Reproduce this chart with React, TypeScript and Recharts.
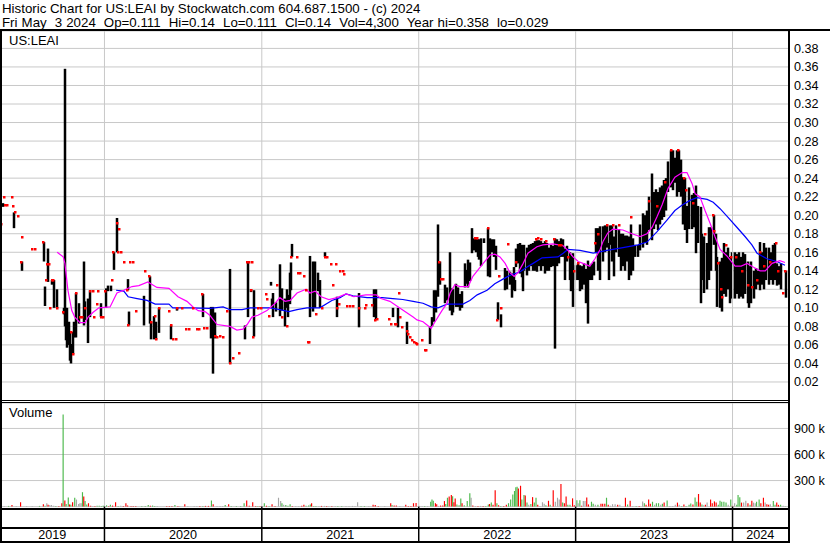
import React from "react";
import {
  ComposedChart,
  Bar,
  Line,
  Scatter,
  XAxis,
  YAxis,
  CartesianGrid,
  ReferenceLine,
  Cell,
} from "recharts";

// x unit = calendar days since May 3 2019
const DAY_MAX = 1833;
const yearStarts = [243, 609, 974, 1339, 1704];
const yearLabels = ["2019", "2020", "2021", "2022", "2023", "2024"];
const priceTicks = [0.02, 0.04, 0.06, 0.08, 0.1, 0.12, 0.14, 0.16, 0.18, 0.2, 0.22, 0.24, 0.26, 0.28, 0.3, 0.32, 0.34, 0.36, 0.38];
const volTicks = [300000, 600000, 900000];

// [day, low, high]
const bars19 = [
  [5, 0.209, 0.213], [31, 0.186, 0.203], [49, 0.14, 0.15], [101, 0.15, 0.171], [104, 0.102, 0.123],
  [110, 0.128, 0.164], [120, 0.125, 0.13], [124, 0.1, 0.13], [130, 0.1, 0.12], [146, 0.093, 0.1],
  [150, 0.08, 0.358], [152, 0.065, 0.1], [155, 0.057, 0.1], [158, 0.06, 0.085], [161, 0.043, 0.074],
  [164, 0.04, 0.061], [168, 0.05, 0.074], [171, 0.068, 0.085], [176, 0.068, 0.116], [182, 0.083, 0.105],
  [194, 0.081, 0.15], [197, 0.087, 0.107], [203, 0.062, 0.11], [208, 0.09, 0.119], [232, 0.09, 0.105],
];
const bars20 = [
  [245, 0.1, 0.121], [250, 0.118, 0.124], [256, 0.118, 0.124], [264, 0.141, 0.16], [270, 0.16, 0.197],
  [295, 0.119, 0.131], [298, 0.081, 0.096], [332, 0.081, 0.113], [346, 0.083, 0.134], [349, 0.066, 0.085],
  [357, 0.066, 0.091], [362, 0.066, 0.085], [369, 0.073, 0.1], [397, 0.066, 0.081], [411, 0.097, 0.1],
  [471, 0.09, 0.115], [488, 0.067, 0.101], [494, 0.029, 0.101], [498, 0.067, 0.095], [534, 0.04, 0.142],
  [569, 0.066, 0.081], [574, 0.09, 0.15], [583, 0.117, 0.12], [589, 0.069, 0.119],
];
const bars21 = [
  [628, 0.124, 0.128], [630, 0.1, 0.11], [634, 0.09, 0.116], [640, 0.096, 0.106], [650, 0.091, 0.147],
  [654, 0.097, 0.121], [661, 0.08, 0.11], [665, 0.1, 0.12], [668, 0.09, 0.114], [673, 0.104, 0.138],
  [676, 0.119, 0.149], [678, 0.155, 0.169], [720, 0.09, 0.156], [726, 0.096, 0.15], [732, 0.1, 0.15],
  [738, 0.118, 0.138], [743, 0.1, 0.13], [754, 0.155, 0.16], [783, 0.09, 0.112], [833, 0.079, 0.116],
  [868, 0.09, 0.12], [873, 0.087, 0.12], [913, 0.09, 0.1], [925, 0.079, 0.1], [944, 0.061, 0.085],
];
const bars22 = [
  [999, 0.061, 0.08], [1003, 0.08, 0.09], [1008, 0.085, 0.119], [1012, 0.095, 0.119], [1017, 0.112, 0.19],
  [1022, 0.125, 0.15], [1034, 0.105, 0.125], [1039, 0.108, 0.122], [1044, 0.097, 0.16], [1049, 0.092, 0.121],
  [1053, 0.095, 0.12], [1059, 0.101, 0.126], [1064, 0.101, 0.122], [1069, 0.097, 0.115], [1073, 0.1, 0.118],
  [1079, 0.122, 0.148], [1084, 0.126, 0.141], [1087, 0.122, 0.152], [1092, 0.129, 0.149], [1096, 0.159, 0.186],
  [1100, 0.162, 0.175], [1105, 0.16, 0.175], [1109, 0.155, 0.174], [1113, 0.152, 0.174], [1118, 0.145, 0.175],
  [1123, 0.17, 0.175], [1134, 0.134, 0.186], [1138, 0.133, 0.175], [1143, 0.16, 0.174], [1148, 0.155, 0.174],
  [1151, 0.141, 0.167], [1157, 0.087, 0.106], [1163, 0.079, 0.093], [1172, 0.119, 0.143], [1178, 0.12, 0.14],
  [1184, 0.125, 0.139], [1188, 0.111, 0.137], [1193, 0.119, 0.144], [1196, 0.118, 0.13], [1199, 0.144, 0.164],
  [1203, 0.148, 0.169], [1208, 0.137, 0.17], [1213, 0.133, 0.168], [1215, 0.118, 0.14], [1218, 0.14, 0.168],
  [1223, 0.135, 0.165], [1228, 0.14, 0.168], [1234, 0.145, 0.169], [1238, 0.14, 0.17], [1242, 0.14, 0.172],
  [1247, 0.139, 0.173], [1252, 0.145, 0.173], [1257, 0.14, 0.172], [1262, 0.145, 0.17], [1267, 0.137, 0.172],
  [1271, 0.14, 0.17], [1276, 0.14, 0.165], [1280, 0.144, 0.168], [1285, 0.145, 0.167], [1289, 0.056, 0.175],
  [1293, 0.145, 0.174], [1298, 0.148, 0.172], [1303, 0.155, 0.175], [1308, 0.155, 0.174], [1312, 0.13, 0.164],
  [1318, 0.15, 0.167], [1323, 0.13, 0.16], [1326, 0.118, 0.156], [1332, 0.101, 0.159], [1337, 0.13, 0.146],
];
const bars23 = [
  [1342, 0.13, 0.148], [1347, 0.118, 0.146], [1352, 0.12, 0.145], [1357, 0.125, 0.148], [1361, 0.105, 0.142],
  [1366, 0.083, 0.151], [1370, 0.13, 0.146], [1376, 0.13, 0.148], [1380, 0.135, 0.15], [1385, 0.159, 0.186],
  [1390, 0.14, 0.186], [1395, 0.13, 0.188], [1400, 0.15, 0.188], [1405, 0.16, 0.189], [1410, 0.165, 0.189],
  [1414, 0.13, 0.17], [1418, 0.168, 0.189], [1422, 0.15, 0.189], [1426, 0.134, 0.177], [1432, 0.16, 0.189],
  [1437, 0.155, 0.185], [1442, 0.14, 0.18], [1447, 0.145, 0.18], [1452, 0.14, 0.178], [1457, 0.15, 0.178],
  [1462, 0.13, 0.177], [1467, 0.135, 0.19], [1471, 0.14, 0.175], [1476, 0.155, 0.168], [1482, 0.155, 0.168],
  [1488, 0.162, 0.19], [1493, 0.165, 0.202], [1498, 0.17, 0.2], [1503, 0.168, 0.205], [1508, 0.184, 0.22],
  [1514, 0.173, 0.245], [1519, 0.185, 0.225], [1524, 0.19, 0.228], [1529, 0.184, 0.225], [1534, 0.19, 0.23],
  [1539, 0.195, 0.232], [1543, 0.198, 0.238], [1548, 0.205, 0.24], [1553, 0.225, 0.258], [1558, 0.23, 0.27],
  [1563, 0.227, 0.27], [1568, 0.235, 0.262], [1573, 0.22, 0.27], [1578, 0.225, 0.27], [1582, 0.22, 0.26],
  [1587, 0.19, 0.241], [1592, 0.184, 0.24], [1597, 0.17, 0.21], [1602, 0.185, 0.23], [1607, 0.185, 0.222],
  [1612, 0.187, 0.224], [1617, 0.159, 0.232], [1622, 0.17, 0.21], [1628, 0.105, 0.209], [1632, 0.13, 0.18],
  [1636, 0.116, 0.177], [1642, 0.12, 0.17], [1648, 0.13, 0.187], [1653, 0.14, 0.187], [1658, 0.168, 0.2],
  [1663, 0.14, 0.18], [1667, 0.101, 0.155], [1672, 0.1, 0.15], [1677, 0.096, 0.154], [1682, 0.115, 0.17],
  [1687, 0.112, 0.16], [1692, 0.12, 0.165], [1697, 0.105, 0.155], [1702, 0.11, 0.16],
];
const bars24 = [
  [1707, 0.11, 0.16], [1712, 0.115, 0.158], [1717, 0.11, 0.16], [1722, 0.112, 0.155], [1727, 0.11, 0.16],
  [1732, 0.115, 0.158], [1737, 0.105, 0.15], [1741, 0.1, 0.145], [1746, 0.105, 0.15], [1751, 0.11, 0.14],
  [1756, 0.12, 0.143], [1761, 0.125, 0.14], [1766, 0.119, 0.171], [1771, 0.125, 0.16], [1776, 0.12, 0.17],
  [1781, 0.13, 0.165], [1786, 0.125, 0.165], [1791, 0.13, 0.16], [1796, 0.125, 0.168], [1801, 0.13, 0.17],
  [1806, 0.124, 0.148], [1811, 0.125, 0.145], [1816, 0.12, 0.148], [1827, 0.111, 0.14],
];

// red close marks [day, price]
const dots19 = [
  [2, 0.19], [9, 0.22], [12, 0.211], [16, 0.211], [29, 0.22], [30, 0.21], [35, 0.203], [43, 0.199],
  [49, 0.15], [51, 0.177], [74, 0.163], [81, 0.163], [101, 0.171], [106, 0.13], [110, 0.147], [113, 0.147],
  [117, 0.1], [120, 0.13], [124, 0.13], [133, 0.1], [146, 0.095], [166, 0.074], [169, 0.05], [176, 0.116],
  [186, 0.09], [190, 0.09], [197, 0.1], [210, 0.118], [216, 0.118], [218, 0.09], [225, 0.104], [229, 0.118],
  [236, 0.09], [240, 0.09],
];
const dots20 = [
  [245, 0.118], [260, 0.13], [264, 0.16], [271, 0.192], [274, 0.16], [277, 0.185], [281, 0.16], [288, 0.15],
  [295, 0.119], [298, 0.081], [302, 0.15], [309, 0.15], [316, 0.097], [338, 0.14], [346, 0.134], [352, 0.085],
  [360, 0.091], [363, 0.066], [369, 0.1], [394, 0.097], [397, 0.081], [403, 0.066], [409, 0.066], [411, 0.1],
  [423, 0.1], [433, 0.077], [439, 0.077], [450, 0.1], [458, 0.077], [464, 0.077], [471, 0.115], [475, 0.078],
  [481, 0.078], [500, 0.07], [505, 0.068], [512, 0.07], [519, 0.068], [529, 0.097], [534, 0.04], [541, 0.046],
  [555, 0.051], [574, 0.15], [580, 0.149], [586, 0.149], [583, 0.119], [589, 0.069], [599, 0.1], [606, 0.1],
];
const dots21 = [
  [618, 0.115], [622, 0.11], [625, 0.091], [644, 0.125], [656, 0.09], [667, 0.08], [678, 0.155], [690, 0.155],
  [694, 0.138], [698, 0.138], [707, 0.134], [712, 0.119], [716, 0.063], [719, 0.063], [735, 0.093], [748, 0.1],
  [756, 0.155], [760, 0.155], [769, 0.147], [774, 0.125], [781, 0.147], [784, 0.1], [789, 0.104], [792, 0.14],
  [797, 0.14], [800, 0.136], [808, 0.102], [815, 0.102], [821, 0.102], [834, 0.1], [848, 0.1], [851, 0.103],
  [865, 0.103], [873, 0.087], [878, 0.088], [904, 0.088], [910, 0.083], [918, 0.083], [922, 0.083], [929, 0.116],
  [931, 0.09], [934, 0.079], [947, 0.075], [950, 0.072], [954, 0.068], [958, 0.065], [962, 0.063], [967, 0.062],
  [970, 0.061],
];
const dots22 = [
  [982, 0.065], [988, 0.055], [992, 0.055], [1022, 0.15], [1026, 0.131], [1030, 0.131], [1105, 0.175],
  [1109, 0.175], [1135, 0.186], [1157, 0.087], [1161, 0.134], [1166, 0.1], [1181, 0.169], [1200, 0.15],
  [1247, 0.174], [1252, 0.175], [1258, 0.174], [1270, 0.172], [1289, 0.174], [1300, 0.168], [1305, 0.168],
  [1322, 0.155], [1336, 0.14],
];
const dots23 = [
  [1345, 0.148], [1385, 0.17], [1392, 0.18], [1412, 0.189], [1425, 0.189], [1440, 0.189], [1467, 0.198],
  [1509, 0.215], [1529, 0.21], [1548, 0.236], [1561, 0.27], [1578, 0.27], [1590, 0.24], [1596, 0.227],
  [1612, 0.213], [1641, 0.18], [1658, 0.2], [1660, 0.183], [1670, 0.148], [1676, 0.12], [1680, 0.112],
  [1688, 0.168], [1700, 0.155],
];
const dots24 = [
  [1712, 0.155], [1725, 0.14], [1740, 0.125], [1750, 0.122], [1762, 0.13], [1768, 0.16], [1778, 0.145],
  [1790, 0.15], [1804, 0.17], [1810, 0.14], [1821, 0.116], [1827, 0.14],
];

// moving averages [day, value]
const maShort = [
  [133, 0.16], [147, 0.155], [151, 0.148], [158, 0.119], [167, 0.097], [174, 0.09], [186, 0.084], [198, 0.084],
  [205, 0.09], [216, 0.095], [230, 0.1], [256, 0.101], [272, 0.116], [288, 0.119], [307, 0.123], [323, 0.124],
  [344, 0.128], [365, 0.122], [393, 0.121], [414, 0.112], [435, 0.107], [449, 0.101], [461, 0.097], [477, 0.096],
  [488, 0.092], [505, 0.082], [535, 0.08], [551, 0.076], [565, 0.077], [575, 0.082], [586, 0.09], [600, 0.092],
  [621, 0.097], [640, 0.105], [651, 0.111], [663, 0.107], [675, 0.108], [691, 0.116], [712, 0.12], [721, 0.116],
  [733, 0.118], [747, 0.112], [765, 0.109], [784, 0.111], [805, 0.115], [823, 0.112], [851, 0.114], [875, 0.114],
  [886, 0.11], [907, 0.107], [923, 0.102], [942, 0.096], [961, 0.09], [970, 0.087], [984, 0.085], [1003, 0.078],
  [1012, 0.085], [1028, 0.097], [1040, 0.105], [1047, 0.116], [1058, 0.125], [1070, 0.123], [1089, 0.123],
  [1100, 0.134], [1112, 0.141], [1124, 0.148], [1140, 0.157], [1151, 0.158], [1163, 0.155], [1175, 0.148],
  [1186, 0.138], [1196, 0.134], [1205, 0.138], [1217, 0.148], [1228, 0.159], [1249, 0.166], [1263, 0.168],
  [1286, 0.169], [1310, 0.167], [1321, 0.162], [1333, 0.155], [1345, 0.15], [1356, 0.148], [1372, 0.145],
  [1384, 0.153], [1396, 0.163], [1403, 0.172], [1414, 0.181], [1426, 0.185], [1449, 0.184], [1470, 0.18],
  [1489, 0.177], [1505, 0.18], [1517, 0.187], [1528, 0.198], [1540, 0.211], [1554, 0.229], [1570, 0.241],
  [1587, 0.246], [1598, 0.246], [1610, 0.234], [1617, 0.223], [1628, 0.22], [1640, 0.205], [1652, 0.191],
  [1663, 0.177], [1675, 0.163], [1691, 0.156], [1710, 0.145], [1724, 0.145], [1738, 0.148], [1752, 0.144],
  [1768, 0.14], [1780, 0.14], [1796, 0.148], [1814, 0.151], [1826, 0.149],
];
const maLong = [
  [270, 0.119], [288, 0.118], [298, 0.112], [319, 0.11], [342, 0.108], [361, 0.104], [393, 0.104], [402, 0.1],
  [442, 0.1], [488, 0.0995], [519, 0.101], [535, 0.098], [563, 0.098], [582, 0.1], [628, 0.1], [651, 0.098],
  [672, 0.096], [691, 0.098], [714, 0.1], [744, 0.1], [772, 0.108], [791, 0.111], [805, 0.115], [821, 0.113],
  [854, 0.111], [889, 0.111], [914, 0.11], [937, 0.109], [961, 0.107], [984, 0.105], [1003, 0.101], [1019, 0.1],
  [1040, 0.104], [1077, 0.104], [1093, 0.108], [1110, 0.114], [1133, 0.119], [1151, 0.126], [1170, 0.131],
  [1186, 0.135], [1210, 0.139], [1226, 0.144], [1240, 0.148], [1261, 0.154], [1298, 0.155], [1310, 0.159],
  [1321, 0.163], [1349, 0.162], [1380, 0.159], [1412, 0.162], [1449, 0.165], [1484, 0.168], [1505, 0.171],
  [1528, 0.182], [1552, 0.195], [1570, 0.205], [1587, 0.211], [1605, 0.216], [1621, 0.219], [1645, 0.217],
  [1659, 0.214], [1675, 0.207], [1693, 0.198], [1714, 0.187], [1733, 0.177], [1749, 0.168], [1761, 0.159],
  [1784, 0.153], [1807, 0.15], [1826, 0.146],
];

// volume [day, thousands, direction 1 up / -1 down / 0 flat]
const vol19 = [
  [3, 8, 1], [10, 6, 0], [20, 8, 1], [28, 18, -1], [38, 6, 0], [48, 50, -1], [62, 8, 0], [75, 6, 0], [92, 8, 1],
  [101, 28, -1], [105, 10, 1], [109, 39, 0], [112, 20, -1], [116, 18, 0], [120, 18, 0], [125, 10, 0], [130, 8, 1],
  [137, 8, -1], [144, 39, -1], [147, 1062, 1], [151, 70, -1], [154, 30, 1], [159, 106, 1], [162, 25, -1],
  [165, 20, 1], [169, 50, -1], [174, 102, 1], [178, 81, 0], [183, 30, 0], [186, 39, 0], [189, 40, 0],
  [192, 166, 1], [195, 116, -1], [198, 64, 1], [202, 25, 1], [206, 39, -1], [211, 10, -1], [216, 8, 0],
  [221, 8, -1], [226, 10, 1], [231, 10, 1], [236, 8, 1], [240, 10, 1],
];
const vol20 = [
  [243, 12, 1], [248, 15, 1], [253, 6, -1], [257, 20, 1], [262, 12, -1], [269, 50, -1], [275, 8, 1], [281, 10, 0],
  [287, 6, -1], [293, 39, -1], [297, 12, -1], [305, 8, -1], [310, 8, -1], [316, 8, -1], [330, 8, 1], [338, 8, 1],
  [345, 18, 1], [350, 10, -1], [355, 12, 1], [360, 8, 1], [366, 6, 0], [388, 8, -1], [394, 8, -1], [400, 8, -1],
  [407, 18, 1], [414, 8, -1], [418, 6, 0], [430, 28, -1], [437, 8, 0], [452, 6, 0], [458, 6, 0], [465, 8, -1],
  [472, 8, 1], [478, 8, -1], [485, 8, -1], [492, 70, 1], [496, 28, -1], [505, 8, 0], [512, 8, 0], [518, 8, 0],
  [524, 18, 1], [532, 28, -1], [538, 8, 1], [550, 6, 1], [560, 8, 1], [568, 39, 1], [574, 70, -1], [580, 10, -1],
  [588, 50, -1], [595, 8, -1], [600, 8, 1], [605, 8, -1],
];
const vol21 = [
  [615, 39, 1], [620, 10, -1], [626, 8, 1], [633, 28, -1], [640, 8, -1], [648, 102, 0], [653, 64, 0], [656, 39, 1],
  [660, 20, 0], [665, 18, 1], [670, 10, 1], [675, 28, 1], [680, 8, -1], [688, 8, 0], [695, 8, 0], [702, 10, -1],
  [707, 21, -1], [712, 10, 1], [718, 12, 1], [722, 25, 1], [725, 39, -1], [730, 8, 1], [735, 8, 1], [742, 8, 0],
  [748, 8, -1], [755, 8, 0], [760, 8, -1], [765, 6, 0], [772, 8, -1], [780, 8, 0], [786, 6, 1], [795, 8, 1],
  [805, 8, 0], [812, 8, 0], [820, 8, 0], [826, 8, 0], [832, 50, 0], [840, 8, 1], [848, 6, 1], [858, 6, 0],
  [868, 21, -1], [873, 18, -1], [880, 8, -1], [895, 6, 0], [909, 39, -1], [912, 18, 1], [917, 12, -1],
  [922, 12, -1], [930, 8, 0], [944, 21, -1], [950, 8, -1], [956, 8, -1], [962, 39, -1], [968, 42, -1],
];
const vol22 = [
  [976, 8, 0], [982, 6, 0], [988, 8, 1], [995, 8, 0], [1002, 56, 1], [1005, 81, 1], [1008, 67, 1], [1013, 39, -1],
  [1016, 28, -1], [1020, 8, 0], [1025, 12, -1], [1030, 12, -1], [1034, 64, -1], [1037, 30, 1], [1041, 102, 1],
  [1045, 116, -1], [1050, 134, -1], [1053, 120, 1], [1056, 50, -1], [1059, 92, -1], [1063, 25, 1], [1068, 15, 1],
  [1072, 92, 1], [1075, 39, -1], [1080, 15, 1], [1087, 64, 1], [1093, 155, 1], [1096, 102, 0], [1100, 12, -1],
  [1106, 8, 0], [1112, 8, -1], [1118, 8, 0], [1124, 8, -1], [1130, 8, 1], [1136, 25, 1], [1139, 30, -1],
  [1143, 46, 1], [1147, 20, -1], [1152, 187, -1], [1156, 39, 1], [1160, 15, -1], [1165, 8, 1], [1172, 8, -1],
  [1178, 20, -1], [1183, 39, 1], [1188, 81, 1], [1193, 138, 1], [1197, 180, 1], [1200, 222, 1], [1203, 230, 1],
  [1206, 208, -1], [1211, 240, -1], [1214, 81, 1], [1219, 134, 1], [1222, 127, -1], [1226, 46, 1], [1230, 20, 0],
  [1235, 30, 1], [1239, 109, -1], [1243, 46, 1], [1247, 102, 1], [1251, 20, -1], [1256, 8, 0], [1262, 50, 0],
  [1266, 32, 0], [1270, 15, 1], [1276, 67, -1], [1280, 20, 1], [1287, 187, -1], [1292, 56, 0], [1297, 102, 0],
  [1301, 81, 0], [1305, 261, -1], [1309, 46, 1], [1313, 39, -1], [1317, 116, -1], [1321, 20, 1], [1326, 20, 1],
  [1332, 95, -1], [1336, 15, -1],
];
const vol23 = [
  [1342, 74, 1], [1345, 39, 0], [1349, 74, 1], [1353, 10, -1], [1357, 64, 0], [1361, 64, 0], [1365, 106, -1],
  [1369, 25, -1], [1376, 56, 1], [1380, 32, 1], [1385, 20, 0], [1391, 20, 1], [1398, 32, -1], [1402, 32, -1],
  [1407, 32, -1], [1411, 102, 1], [1415, 20, -1], [1420, 10, 0], [1425, 28, 0], [1431, 28, 0], [1437, 20, -1],
  [1442, 20, 0], [1455, 102, -1], [1460, 25, 1], [1466, 67, -1], [1472, 8, 0], [1480, 8, 1], [1487, 8, -1],
  [1495, 60, 0], [1499, 39, 1], [1503, 20, -1], [1509, 81, -1], [1513, 32, -1], [1518, 56, 1], [1523, 20, 0],
  [1527, 39, 1], [1532, 39, 1], [1537, 20, 0], [1541, 32, 1], [1545, 46, -1], [1552, 70, 1], [1558, 8, 0],
  [1565, 8, 0], [1571, 20, 0], [1576, 46, -1], [1580, 20, 0], [1586, 8, 1], [1591, 25, -1], [1596, 8, 1],
  [1603, 20, 1], [1607, 35, 1], [1612, 25, -1], [1617, 106, 1], [1621, 56, 1], [1625, 145, -1], [1629, 46, -1],
  [1633, 25, 1], [1637, 15, 0], [1641, 20, -1], [1645, 46, 0], [1653, 81, -1], [1657, 39, -1], [1662, 60, -1],
  [1666, 46, -1], [1671, 20, 1], [1675, 67, 1], [1679, 56, 1], [1684, 56, 1], [1689, 46, 1], [1694, 20, 0],
  [1700, 81, 1],
];
const vol24 = [
  [1704, 20, -1], [1709, 39, 0], [1714, 20, 1], [1717, 134, 1], [1721, 109, 1], [1725, 46, -1], [1730, 46, 0],
  [1735, 67, 0], [1740, 39, -1], [1745, 20, 1], [1749, 67, -1], [1753, 46, 0], [1757, 39, 0], [1760, 56, 1],
  [1766, 81, 1], [1770, 39, -1], [1776, 102, -1], [1780, 46, 0], [1784, 28, -1], [1788, 20, -1], [1792, 28, 0],
  [1799, 64, 1], [1803, 20, 1], [1807, 46, -1], [1811, 20, -1], [1816, 20, 1], [1822, 10, 0], [1827, 4, 1],
];

const priceRows = [...bars19, ...bars20, ...bars21, ...bars22, ...bars23, ...bars24].map(([d, lo, hi]) => ({ d, r: [lo, hi] }));
const dotRows = [...dots19, ...dots20, ...dots21, ...dots22, ...dots23, ...dots24].map(([d, p]) => ({ d, p }));
const shortRows = maShort.map(([d, v]) => ({ d, v }));
const longRows = maLong.map(([d, v]) => ({ d, v }));
const volRows = [...vol19, ...vol20, ...vol21, ...vol22, ...vol23, ...vol24].map(([d, k, dir]) => ({ d, v: k * 1000, dir }));

const bounds = [0, ...yearStarts, DAY_MAX];
const yearMids = yearLabels.map((_, i) => (bounds[i] + bounds[i + 1]) / 2);

const FONT = '"Liberation Sans", Arial, sans-serif';
const GRID = "#c8c8c8";
const volColor = (dir: number) => (dir > 0 ? "#4cb94c" : dir < 0 ? "#ff0000" : "#a6a6a6");

const RangeBar = (p: any) => {
  if (p.y == null || isNaN(p.y)) return null;
  const top = Math.min(p.y, p.y + p.height);
  const h = Math.max(Math.abs(p.height), 1);
  return <rect x={Math.round(p.x) - 0.25} y={top} width={2.5} height={h} fill="#000" />;
};

const CloseDot = (p: any) => (
  <rect x={Math.round(p.cx) - 1} y={Math.round(p.cy) - 1} width={2.5} height={2.5} fill="#ff0000" />
);

const YearTick = (p: any) => {
  const i = yearMids.indexOf(p.payload.value);
  if (i >= 0) {
    return (
      <text x={p.x} y={p.y + 32} textAnchor="middle" fontSize={12.6} fontFamily={FONT} fill="#000">
        {yearLabels[i]}
      </text>
    );
  }
  return <line x1={p.x} x2={p.x} y1={p.y} y2={p.y + 35} stroke="#000" strokeWidth={1.5} />;
};

const hLine = (top: number, h: number, w = 790) => (
  <div style={{ position: "absolute", left: 0, top, width: w, height: h, background: "#000" }} />
);

const titleStyle: React.CSSProperties = {
  position: "absolute",
  left: 2,
  fontSize: "13.3px",
  lineHeight: "14px",
  whiteSpace: "pre",
  color: "#000",
};

export default function App() {
  return (
    <div style={{ position: "absolute", left: 0, top: 0, width: 830, height: 543, background: "#fff", fontFamily: FONT, overflow: "hidden" }}>
      <div style={{ ...titleStyle, top: 1.7 }}>
        Historic Chart for US:LEAI by Stockwatch.com 604.687.1500 - (c) 2024
      </div>
      <div style={{ ...titleStyle, top: 15.7, wordSpacing: "0.35px" }}>
        {"Fri May  3 2024  Op=0.111  Hi=0.14  Lo=0.111  Cl=0.14  Vol=4,300  Year hi=0.358  lo=0.029"}
      </div>

      <div style={{ position: "absolute", left: 0, top: 31 }}>
        <ComposedChart width={830} height={370} data={priceRows} margin={{ top: 0, right: 0, bottom: 0.5, left: 0 }}>
          <CartesianGrid stroke={GRID} vertical={false} />
          {yearStarts.map((d) => (
            <ReferenceLine key={d} x={d} stroke={GRID} />
          ))}
          <XAxis dataKey="d" type="number" domain={[0, DAY_MAX]} hide />
          <YAxis
            orientation="right"
            width={42}
            domain={[0, 0.3988]}
            ticks={priceTicks}
            interval={0}
            tickFormatter={(v: number) => v.toFixed(2)}
            axisLine={false}
            tickLine={false}
            tickSize={4}
            tickMargin={2}
            tick={{ fill: "#000", fontSize: 12.6, fontFamily: FONT }}
          />
          <Bar dataKey="r" barSize={2} shape={RangeBar} isAnimationActive={false} />
          <Line data={longRows} dataKey="v" stroke="#0000ff" strokeWidth={1.2} dot={false} isAnimationActive={false} />
          <Line data={shortRows} dataKey="v" stroke="#ff00ff" strokeWidth={1.2} dot={false} isAnimationActive={false} />
          <Scatter data={dotRows} dataKey="p" shape={CloseDot} isAnimationActive={false} />
        </ComposedChart>
      </div>

      <div style={{ position: "absolute", left: 0, top: 403 }}>
        <ComposedChart width={830} height={140} data={volRows} margin={{ top: 0, right: 0, bottom: 0, left: 0 }}>
          <CartesianGrid stroke={GRID} vertical={false} />
          {yearStarts.map((d) => (
            <ReferenceLine key={d} x={d} stroke={GRID} />
          ))}
          <XAxis
            dataKey="d"
            type="number"
            domain={[0, DAY_MAX]}
            ticks={[...yearStarts, ...yearMids].sort((a, b) => a - b)}
            interval={0}
            height={36.4}
            axisLine={false}
            tickLine={false}
            tickSize={0}
            tickMargin={0}
            tick={YearTick}
          />
          <YAxis
            orientation="right"
            width={42}
            domain={[0, 1193000]}
            ticks={volTicks}
            interval={0}
            tickFormatter={(v: number) => `${v / 1000} k`}
            axisLine={false}
            tickLine={false}
            tickSize={4}
            tickMargin={2}
            tick={{ fill: "#000", fontSize: 12.6, fontFamily: FONT }}
          />
          <Bar dataKey="v" barSize={2} isAnimationActive={false}>
            {volRows.map((r, i) => (
              <Cell key={i} fill={volColor(r.dir)} />
            ))}
          </Bar>
        </ComposedChart>
      </div>

      <div style={{ position: "absolute", left: 9, top: 34, fontSize: 13, lineHeight: "14px" }}>US:LEAI</div>
      <div style={{ position: "absolute", left: 9, top: 406.2, fontSize: 13, lineHeight: "14px" }}>Volume</div>

      {hLine(29, 2, 830)}
      {hLine(399.5, 1.2)}
      {hLine(401.8, 1.2)}
      {hLine(508, 2)}
      {hLine(526.5, 2)}
      {hLine(540.5, 2)}
      <div style={{ position: "absolute", left: 0, top: 29, width: 2, height: 514, background: "#000" }} />
      <div style={{ position: "absolute", left: 788, top: 29, width: 2, height: 514, background: "#000" }} />
    </div>
  );
}
